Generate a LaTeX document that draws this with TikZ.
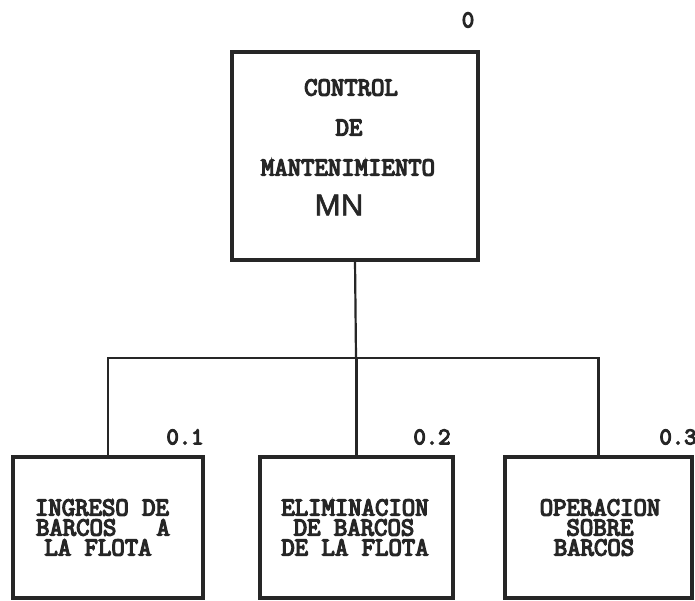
\documentclass[tikz,border=0pt]{standalone}
\usepackage{fontspec}
\newfontfamily\dm{Latin Modern Mono}[FakeBold=5]
\newfontfamily\mnfont{Liberation Sans}[FakeStretch=1.05, FakeBold=2]
\begin{document}
\begin{tikzpicture}[x=1pt,y=-1pt,
  box/.style={draw=black!85, line width=3.2pt, inner sep=0pt, outer sep=0pt, fill=none},
  conn/.style={draw=black!85, line width=2.2pt},
  txt/.style={font=\dm\fontsize{26}{20}\selectfont, text=black!85, inner sep=0pt, text height=15pt, text depth=0pt},
  num/.style={font=\dm\fontsize{24}{24}\selectfont, text=black!85, inner sep=0pt}]
\useasboundingbox (0,0) rectangle (695,601);
\fill[white] (0,0) rectangle (695,601);
% boxes
\node[box, minimum width=246pt, minimum height=208pt] (top) at (355,156) {};
\node[box, minimum width=190pt, minimum height=141pt] (b1) at (108,527.5) {};
\node[box, minimum width=193pt, minimum height=141pt] (b2) at (356.5,527.5) {};
\node[box, minimum width=187pt, minimum height=141pt] (b3) at (598.5,527.5) {};
% top text
\node[txt] (t1) at (351,88) {CONTROL};
\node[txt] (t2) at (349,128) {DE};
\node[txt] (t3) at (348,168) {MANTENIMIENTO};
\node[font=\mnfont\fontsize{30}{30}\selectfont, text=black!85, inner sep=0pt] (mn) at (339,205) {MN};
% bottom texts
\node[txt] (x1a) at (102,508) {INGRESO~DE};
\node[txt] (x1b) at (103,528) {BARCOS~~~A};
\node[txt] (x1c) at (98,548) {LA~FLOTA};
\node[txt] (x2a) at (355,508) {ELIMINACION};
\node[txt] (x2b) at (354,528) {DE~BARCOS};
\node[txt] (x2c) at (355,548) {DE~LA~FLOTA};
\node[txt] (x3a) at (600,508) {OPERACION};
\node[txt] (x3b) at (600,528) {SOBRE};
\node[txt] (x3c) at (594,548) {BARCOS};
% numbers
\node[num] (n0) at (468,20) {0};
\node[num] (n1) at (185,437) {0.1};
\node[num] (n2) at (432,437) {0.2};
\node[num] (n3) at (678,437) {0.3};
% connectors
\coordinate (j) at (356,358);
\draw[conn] (top.south) -- (j);
\draw[conn] (b1.north) |- (j) -| (b3.north);
\draw[conn] (b2.north) -- (b2.north |- j);
\end{tikzpicture}
\end{document}
